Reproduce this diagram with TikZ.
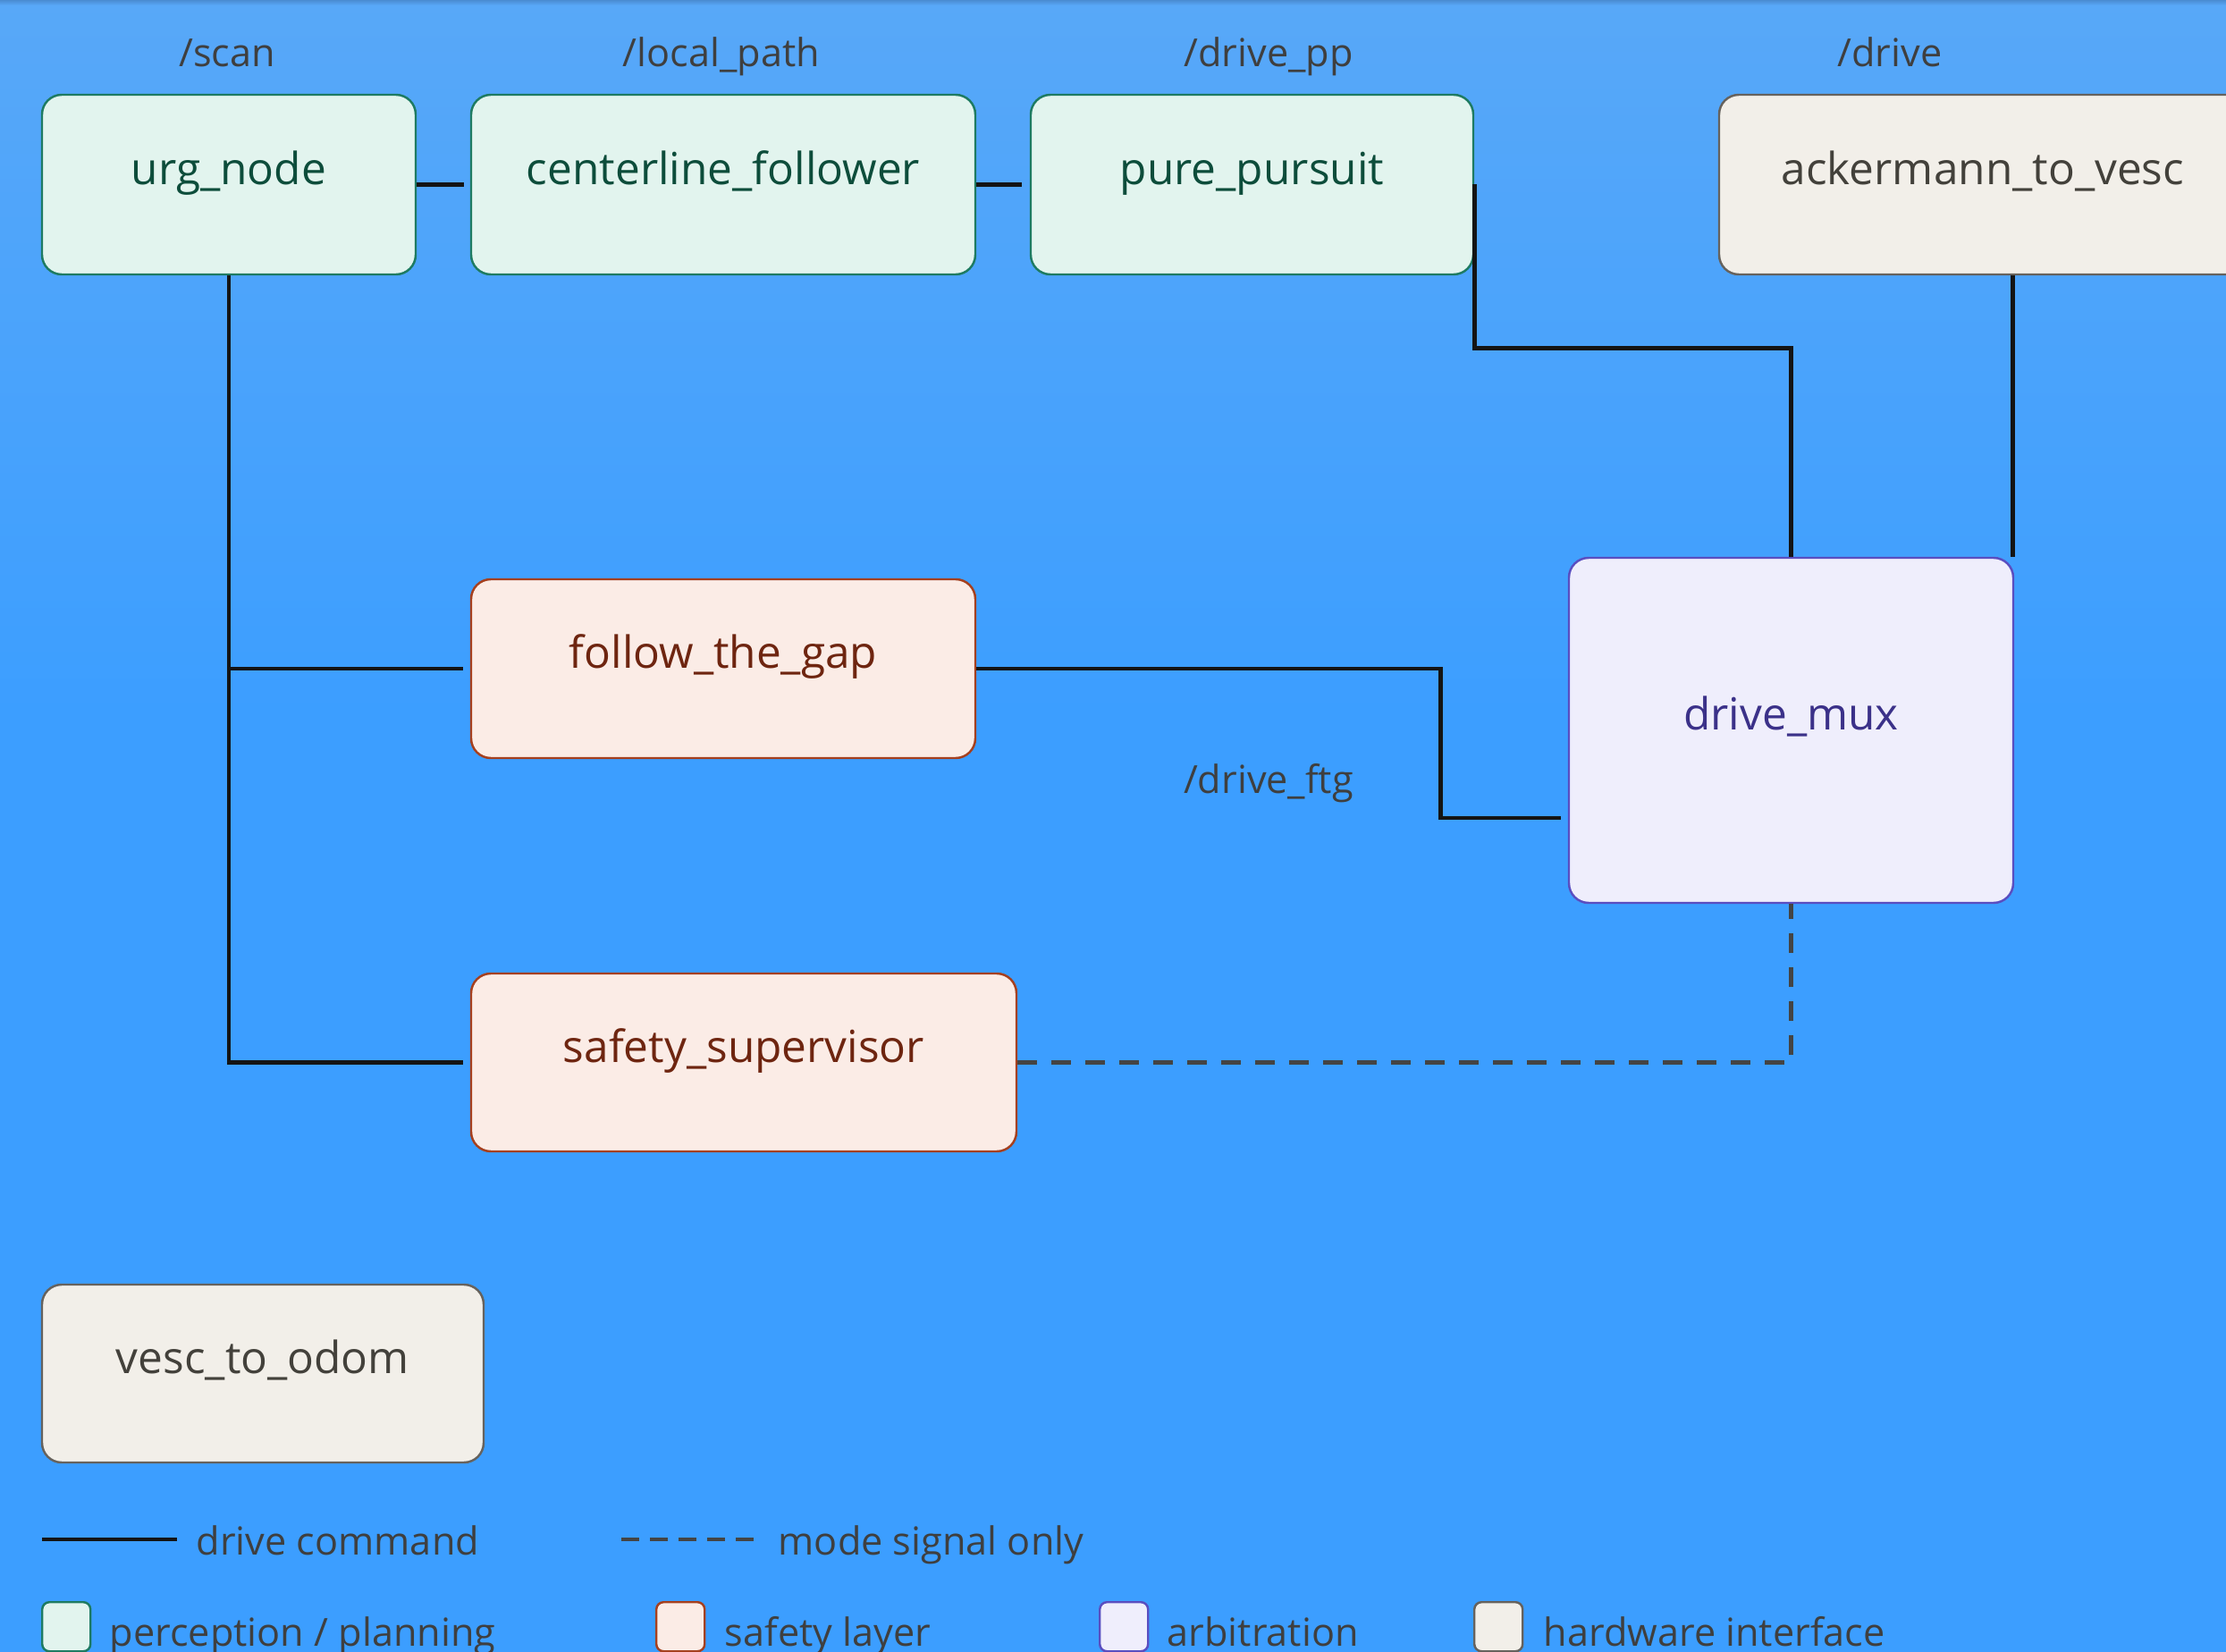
\documentclass[tikz,border=0pt]{standalone}
\usepackage{fontspec}
\setmainfont{Open Sans}
\usetikzlibrary{calc}
\definecolor{bgedge}{RGB}{74,140,210}
\definecolor{bgtop}{RGB}{88,168,248}
\definecolor{bgbot}{RGB}{60,158,255}
\definecolor{percfill}{RGB}{226,244,238}
\definecolor{percdraw}{RGB}{30,123,98}
\definecolor{perctext}{RGB}{13,77,59}
\definecolor{saffill}{RGB}{251,236,230}
\definecolor{safdraw}{RGB}{165,64,31}
\definecolor{saftext}{RGB}{110,37,16}
\definecolor{arbfill}{RGB}{239,238,252}
\definecolor{arbdraw}{RGB}{90,78,192}
\definecolor{arbtext}{RGB}{59,49,137}
\definecolor{hwfill}{RGB}{242,239,233}
\definecolor{hwdraw}{RGB}{102,98,93}
\definecolor{hwtext}{RGB}{67,65,59}
\definecolor{lbltext}{RGB}{63,63,63}
\definecolor{cmdline}{RGB}{20,20,20}
\definecolor{modeline}{RGB}{68,68,68}
\tikzset{
  nodebox/.style={draw, rounded corners=0.22cm, line width=0.7pt, inner sep=0pt,
    text height=0.4cm, text depth=0.4cm, font=\fontsize{14.1}{17}\selectfont},
  perc/.style={nodebox, fill=percfill, draw=percdraw, text=perctext},
  saf/.style={nodebox, fill=saffill, draw=safdraw, text=saftext},
  arb/.style={nodebox, fill=arbfill, draw=arbdraw, text=arbtext},
  hw/.style={nodebox, fill=hwfill, draw=hwdraw, text=hwtext},
  lbl/.style={inner sep=0pt, text=lbltext, font=\fontsize{12.3}{15}\selectfont},
  cmd/.style={draw=cmdline, line width=1.35pt},
  mode/.style={draw=modeline, line width=1.3pt, dash pattern=on 0.22cm off 0.16cm},
  legmode/.style={draw=modeline, line width=1.3pt, dash pattern=on 0.2cm off 0.12cm},
  legbox/.style={draw, rounded corners=0.08cm, line width=0.7pt, inner sep=0pt,
    minimum width=0.54cm, minimum height=0.55cm, anchor=north west},
}
\begin{document}
\begin{tikzpicture}[x=1cm,y=1cm]
\useasboundingbox (0,0) rectangle (24.9,-18.48);
\begin{scope}
\clip (0,0) rectangle (24.9,-18.48);
\fill[bgbot] (0,0) rectangle (24.9,-18.48);
\shade[top color=bgtop, bottom color=bgbot] (0,0) rectangle (24.9,-8);
\shade[top color=bgedge, bottom color=bgtop] (0,0) rectangle (24.9,-0.06);

% nodes
\node[perc, minimum width=4.18cm, minimum height=2.01cm] (urg) at (2.56,-2.065) {urg\_node};
\node[perc, minimum width=5.64cm, minimum height=2.01cm] (cl) at (8.09,-2.065) {centerline\_follower};
\node[perc, minimum width=4.95cm, minimum height=2.01cm] (pp) at (14.005,-2.065) {pure\_pursuit};
\node[hw, minimum width=5.90cm, minimum height=2.01cm] (ack) at (22.18,-2.065) {ackermann\_to\_vesc};
\node[saf, minimum width=5.64cm, minimum height=2.00cm] (ftg) at (8.09,-7.48) {follow\_the\_gap};
\node[saf, minimum width=6.10cm, minimum height=1.99cm] (ss) at (8.32,-11.885) {safety\_supervisor};
\node[arb, minimum width=4.97cm, minimum height=3.86cm] (mux) at (20.035,-8.17) {drive\_mux};
\node[hw, minimum width=4.94cm, minimum height=1.99cm] (vesc) at (2.94,-15.365) {vesc\_to\_odom};

% topic labels
\node[lbl, anchor=base] (tscan) at (2.54,-0.745) {/scan};
\node[lbl, anchor=base] (tlp) at (8.07,-0.745) {/local\_path};
\node[lbl, anchor=base] (tpp) at (14.19,-0.745) {/drive\_pp};
\node[lbl, anchor=base] (tdr) at (21.14,-0.745) {/drive};
\node[lbl, anchor=base] (tftg) at (14.19,-8.875) {/drive\_ftg};

% connectors
\draw[cmd] (urg.east) -- ([xshift=-0.07cm]cl.west);
\draw[cmd] (cl.east) -- ([xshift=-0.09cm]pp.west);
\draw[cmd] (pp.east) |- ($(mux.north)+(0,2.33)$) -- (mux.north);
\draw[cmd] ([xshift=-0.02cm]ack.south -| mux.north east) -- ([xshift=-0.02cm]mux.north east);
\draw[cmd] (urg.south) |- ([xshift=-0.08cm]ss.west);
\draw[cmd] (urg.south |- ftg.west) -- ([xshift=-0.08cm]ftg.west);
\draw[cmd] (ftg.east) -- ++(5.19,0) |- ([xshift=-0.08cm,yshift=-0.98cm]mux.west);
\draw[mode] (ss.east) -| (mux.south);

% legend
\coordinate (l1a) at (0.47,-17.22);
\coordinate (l1b) at (1.98,-17.22);
\draw[cmd] (l1a) -- (l1b);
\node[lbl, anchor=base west] (l1t) at (2.19,-17.39) {drive command};
\coordinate (l2a) at (6.95,-17.22);
\coordinate (l2b) at (8.46,-17.22);
\draw[legmode] (l2a) -- (l2b);
\node[lbl, anchor=base west] (l2t) at (8.70,-17.39) {mode signal only};

\node[legbox, fill=percfill, draw=percdraw] (k1) at (0.46,-17.91) {};
\node[lbl, anchor=base west] (k1t) at (1.22,-18.41) {perception / planning};
\node[legbox, fill=saffill, draw=safdraw] (k2) at (7.33,-17.91) {};
\node[lbl, anchor=base west] (k2t) at (8.10,-18.41) {safety layer};
\node[legbox, fill=arbfill, draw=arbdraw] (k3) at (12.29,-17.91) {};
\node[lbl, anchor=base west] (k3t) at (13.05,-18.41) {arbitration};
\node[legbox, fill=hwfill, draw=hwdraw] (k4) at (16.48,-17.91) {};
\node[lbl, anchor=base west] (k4t) at (17.26,-18.41) {hardware interface};
\end{scope}
\end{tikzpicture}
\end{document}
